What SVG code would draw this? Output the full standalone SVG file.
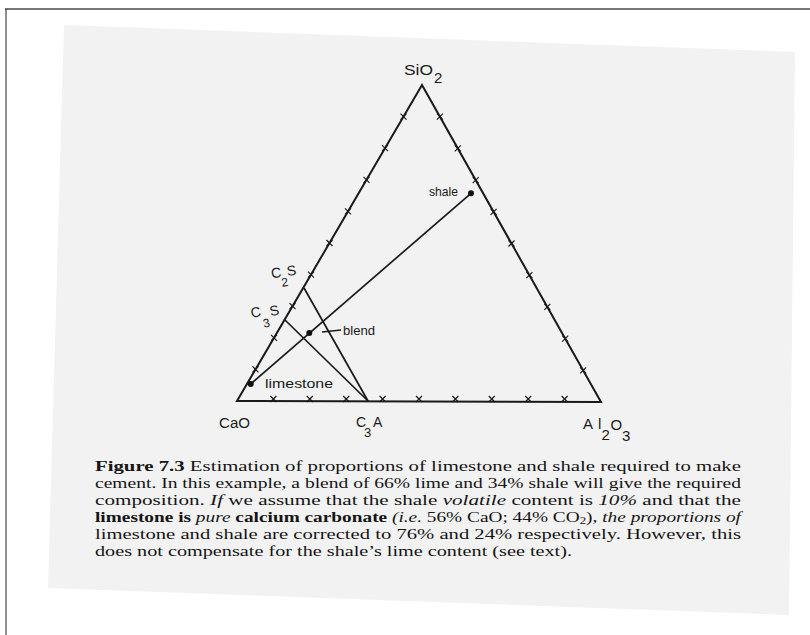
<svg xmlns="http://www.w3.org/2000/svg" width="810" height="635" viewBox="0 0 810 635">
<style>
.side{fill:none;stroke:#1a1a1a;stroke-width:2;stroke-linejoin:miter}
.ln{stroke:#1a1a1a;stroke-width:1.7;fill:none}
.tk{stroke:#1a1a1a;stroke-width:1.2;fill:none}
.lab{font-family:"Liberation Sans",Arial,sans-serif;fill:#1a1a1a}
.cap{font-family:"Liberation Serif","Times New Roman",serif;font-size:15px;fill:#151515}
.dot{fill:#111}
</style>
<defs>
<g id="x"><path class="tk" d="M-3,-3L3,3M-3,3L3,-3"/></g>
</defs>
<rect x="0" y="0" width="810" height="635" fill="#ffffff"/>
<line x1="5" y1="9" x2="810" y2="9" stroke="#777" stroke-width="2"/>
<line x1="6" y1="9" x2="6" y2="635" stroke="#222" stroke-width="1"/>
<polygon points="64,25 795,52 789,615 48,588" fill="#f2f2f2"/>

<g id="triangle">
<polygon class="side" points="237,401 422,85 601,402"/>
</g>
<g id="ticks">
<use href="#x" x="255.5" y="369.4"/><use href="#x" x="274" y="337.8"/><use href="#x" x="292.5" y="306.2"/><use href="#x" x="311" y="274.6"/><use href="#x" x="329.5" y="243"/><use href="#x" x="348" y="211.4"/><use href="#x" x="366.5" y="179.8"/><use href="#x" x="385" y="148.2"/><use href="#x" x="403.5" y="116.6"/>
<use href="#x" x="439.9" y="116.7"/><use href="#x" x="457.8" y="148.4"/><use href="#x" x="475.7" y="180.1"/><use href="#x" x="493.6" y="211.8"/><use href="#x" x="511.5" y="243.5"/><use href="#x" x="529.4" y="275.2"/><use href="#x" x="547.3" y="306.9"/><use href="#x" x="565.2" y="338.6"/><use href="#x" x="583.1" y="370.3"/>
<use href="#x" x="273.4" y="399"/><use href="#x" x="309.8" y="399"/><use href="#x" x="346.2" y="399"/><use href="#x" x="382.6" y="399"/><use href="#x" x="419" y="399"/><use href="#x" x="455.4" y="399"/><use href="#x" x="491.8" y="399"/><use href="#x" x="528.2" y="399"/><use href="#x" x="564.6" y="399"/>
</g>

<g id="connectors">
<line class="ln" x1="304" y1="288" x2="368" y2="401"/>
<line class="ln" x1="285" y1="320" x2="368" y2="401"/>
<line class="ln" x1="250.7" y1="384" x2="471" y2="193.3"/>
<line class="ln" x1="322" y1="332" x2="341" y2="330" stroke-width="1.2"/>
</g>

<g id="node-limestone">
<circle class="dot" cx="250.7" cy="384" r="3"/>
<text class="lab" x="265" y="388" font-size="13" textLength="68" lengthAdjust="spacingAndGlyphs">limestone</text>
</g>
<g id="node-shale">
<circle class="dot" cx="471" cy="193.3" r="3"/>
<text class="lab" x="429" y="196" font-size="13" textLength="29" lengthAdjust="spacingAndGlyphs">shale</text>
</g>
<g id="node-blend">
<circle class="dot" cx="309.3" cy="333" r="3"/>
<text class="lab" x="343" y="335" font-size="13" textLength="32" lengthAdjust="spacingAndGlyphs">blend</text>
</g>

<g id="label-SiO2">
<text class="lab" x="404" y="75" font-size="15" textLength="29" lengthAdjust="spacingAndGlyphs">SiO</text>
<text class="lab" x="434" y="83" font-size="15">2</text>
</g>
<g id="label-C2S" transform="rotate(-8 280 280)">
<text class="lab" x="272" y="277" font-size="14">C</text>
<text class="lab" x="281" y="287" font-size="12">2</text>
<text class="lab" x="288" y="277" font-size="14">S</text>
</g>
<g id="label-C3S" transform="rotate(-12 262 318)">
<text class="lab" x="252" y="316" font-size="14">C</text>
<text class="lab" x="262" y="328" font-size="12">3</text>
<text class="lab" x="271" y="318" font-size="14">S</text>
</g>
<g id="label-CaO">
<text class="lab" x="219" y="428" font-size="14" textLength="31" lengthAdjust="spacingAndGlyphs">CaO</text>
</g>
<g id="label-C3A">
<text class="lab" x="356" y="427" font-size="14">C</text>
<text class="lab" x="364" y="437" font-size="13">3</text>
<text class="lab" x="373" y="427" font-size="14">A</text>
</g>
<g id="label-Al2O3">
<text class="lab" x="583" y="429" font-size="15">A<tspan dx="5">l</tspan></text>
<text class="lab" x="601.5" y="440" font-size="15">2</text>
<text class="lab" x="610.5" y="430" font-size="15">O</text>
<text class="lab" x="622" y="441" font-size="15">3</text>
</g>

<g id="caption">
<text class="cap" x="95" y="471" textLength="646" lengthAdjust="spacingAndGlyphs"><tspan font-weight="bold">Figure 7.3</tspan> Estimation of proportions of limestone and shale required to make</text>
<text class="cap" x="95" y="488" textLength="646" lengthAdjust="spacingAndGlyphs">cement. In this example, a blend of 66% lime and 34% shale will give the required</text>
<text class="cap" x="95" y="505" textLength="646" lengthAdjust="spacingAndGlyphs">composition. <tspan font-style="italic">If</tspan> we assume that the shale <tspan font-style="italic">volatile</tspan> content is <tspan font-style="italic">10%</tspan> and that the</text>
<text class="cap" x="95" y="522" textLength="646" lengthAdjust="spacingAndGlyphs"><tspan font-weight="bold">limestone is </tspan><tspan font-style="italic">pure </tspan><tspan font-weight="bold">calcium carbonate </tspan><tspan font-style="italic">(i.e.</tspan> 56% CaO; 44% CO<tspan font-size="10" dy="2">2</tspan><tspan dy="-2">), </tspan><tspan font-style="italic">the proportions of</tspan></text>
<text class="cap" x="95" y="539" textLength="646" lengthAdjust="spacingAndGlyphs">limestone and shale are corrected to 76% and 24% respectively. However, this</text>
<text class="cap" x="95" y="556" textLength="477" lengthAdjust="spacingAndGlyphs">does not compensate for the shale’s lime content (see text).</text>
</g>
</svg>
